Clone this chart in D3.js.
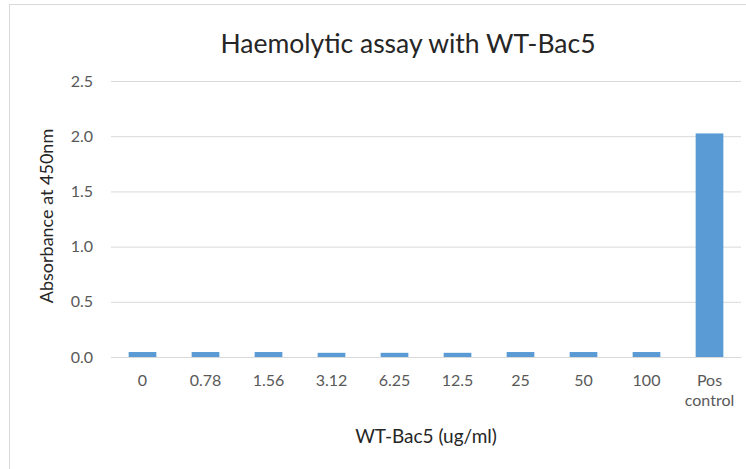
<!DOCTYPE html>
<html>
<head>
<meta charset="utf-8">
<script src="https://cdn.jsdelivr.net/npm/d3@7"></script>
<style>
  body { margin: 0; background: #fff; }
  text { font-family: Lato, "Open Sans", sans-serif; }
</style>
</head>
<body>
<svg id="svg" width="746" height="469"></svg>
<script>
// data
var categories = ["0", "0.78", "1.56", "3.12", "6.25", "12.5", "25", "50", "100", "Pos control"];
var absorbance = [0.045, 0.045, 0.045, 0.038, 0.038, 0.038, 0.045, 0.045, 0.045, 2.025];
var yTicks = [0, 0.5, 1.0, 1.5, 2.0, 2.5];

var svg = d3.select("#svg");

// chart frame
svg.append("rect")
    .attr("x", 9.5).attr("y", 4.5)
    .attr("width", 760).attr("height", 480)
    .attr("fill", "#fff")
    .attr("stroke", "#d9d9d9");

var margin = {top: 81, right: 5, bottom: 112, left: 111},
    width = 741 - margin.left,
    height = 357 - margin.top;

var g = svg.append("g")
    .attr("transform", "translate(" + margin.left + "," + margin.top + ")");

var x = d3.scaleBand()
    .domain(categories)
    .range([0, width])
    .paddingInner(0.56)
    .paddingOuter(0.28);

var y = d3.scaleLinear().domain([0, 2.5]).range([height, 0]);

// gridlines + y axis
var yAxis = g.append("g")
    .call(d3.axisLeft(y).tickValues(yTicks).tickFormat(d3.format(".1f")).tickSize(-width).tickPadding(18));
yAxis.select(".domain").remove();
yAxis.selectAll("line").attr("stroke", "#d9d9d9");
yAxis.selectAll("text").attr("fill", "#595959").style("font-size", "16px");

// bars
g.selectAll(".bar")
    .data(absorbance)
    .enter().append("rect")
    .attr("class", "bar")
    .attr("x", function(d, i) { return x(categories[i]); })
    .attr("width", x.bandwidth())
    .attr("y", function(d) { return y(d); })
    .attr("height", function(d) { return height - y(d); })
    .attr("fill", "#5b9bd5");

// x axis labels
var xAxis = g.append("g")
    .attr("transform", "translate(0," + height + ")")
    .call(d3.axisBottom(x).tickSize(0).tickPadding(18));
xAxis.select(".domain").attr("stroke", "#d9d9d9");
xAxis.selectAll("text")
    .attr("fill", "#595959")
    .style("font-size", "16px")
    .each(function(d) {
        var t = d3.select(this), words = d.split(" ");
        if (words.length > 1) {
            t.text(null);
            words.forEach(function(w, k) {
                t.append("tspan").attr("x", 0).attr("dy", k ? "1.2em" : "0.71em").text(w);
            });
        }
    });

// title and axis titles
svg.append("text")
    .attr("x", 408).attr("y", 53)
    .attr("text-anchor", "middle")
    .attr("fill", "#262626")
    .style("font-size", "26.5px")
    .text("Haemolytic assay with WT-Bac5");

svg.append("text")
    .attr("x", 426).attr("y", 443)
    .attr("text-anchor", "middle")
    .attr("fill", "#262626")
    .style("font-size", "19px")
    .text("WT-Bac5 (ug/ml)");

svg.append("text")
    .attr("transform", "translate(53,216) rotate(-90)")
    .attr("text-anchor", "middle")
    .attr("fill", "#262626")
    .style("font-size", "18px")
    .text("Absorbance at 450nm");
</script>
</body>
</html>
